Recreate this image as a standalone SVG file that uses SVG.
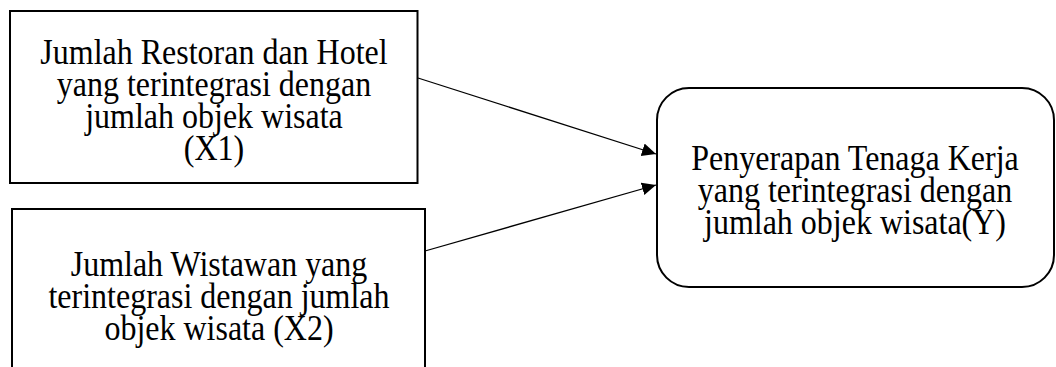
<svg xmlns="http://www.w3.org/2000/svg" width="1056" height="367" viewBox="0 0 1056 367">
<style>
.box{fill:#fff;stroke:#000;stroke-width:2}
.lbl{font-family:"Liberation Serif","Times New Roman",serif;font-size:32px;fill:#000;text-anchor:middle}
.conn{stroke:#000;stroke-width:1.3;fill:none}
</style>
<defs>
<marker id="arr" markerUnits="userSpaceOnUse" markerWidth="15" markerHeight="14" refX="14" refY="6.5" orient="auto">
<path d="M0,0 L14,6.5 L0,13 z" fill="#000"/>
</marker>
</defs>
<rect width="1056" height="367" fill="#fff"/>
<g id="connectors">
<line class="conn" x1="418" y1="78" x2="656" y2="154" marker-end="url(#arr)"/>
<line class="conn" x1="425" y1="251" x2="656" y2="185" marker-end="url(#arr)"/>
</g>
<g id="x1">
<rect class="box" x="10" y="11" width="407.5" height="172"/>
<text class="lbl" transform="translate(214 64) scale(1 1.1)">Jumlah Restoran dan Hotel</text>
<text class="lbl" transform="translate(214 96) scale(1 1.1)">yang terintegrasi dengan</text>
<text class="lbl" transform="translate(214 128) scale(1 1.1)">jumlah objek wisata</text>
<text class="lbl" transform="translate(214 160) scale(1 1.1)">(X1)</text>
</g>
<g id="x2">
<rect class="box" x="12" y="209" width="413" height="170"/>
<text class="lbl" transform="translate(219 276) scale(1 1.1)">Jumlah Wistawan yang</text>
<text class="lbl" transform="translate(219 308) scale(1 1.1)">terintegrasi dengan jumlah</text>
<text class="lbl" transform="translate(219 340) scale(1 1.1)">objek wisata (X2)</text>
</g>
<g id="y">
<rect class="box" x="657" y="88" width="397" height="199" rx="32" ry="32"/>
<text class="lbl" transform="translate(855 170) scale(1 1.1)">Penyerapan Tenaga Kerja</text>
<text class="lbl" transform="translate(855 202) scale(1 1.1)">yang terintegrasi dengan</text>
<text class="lbl" transform="translate(855 234) scale(1 1.1)">jumlah objek wisata(Y)</text>
</g>
</svg>
